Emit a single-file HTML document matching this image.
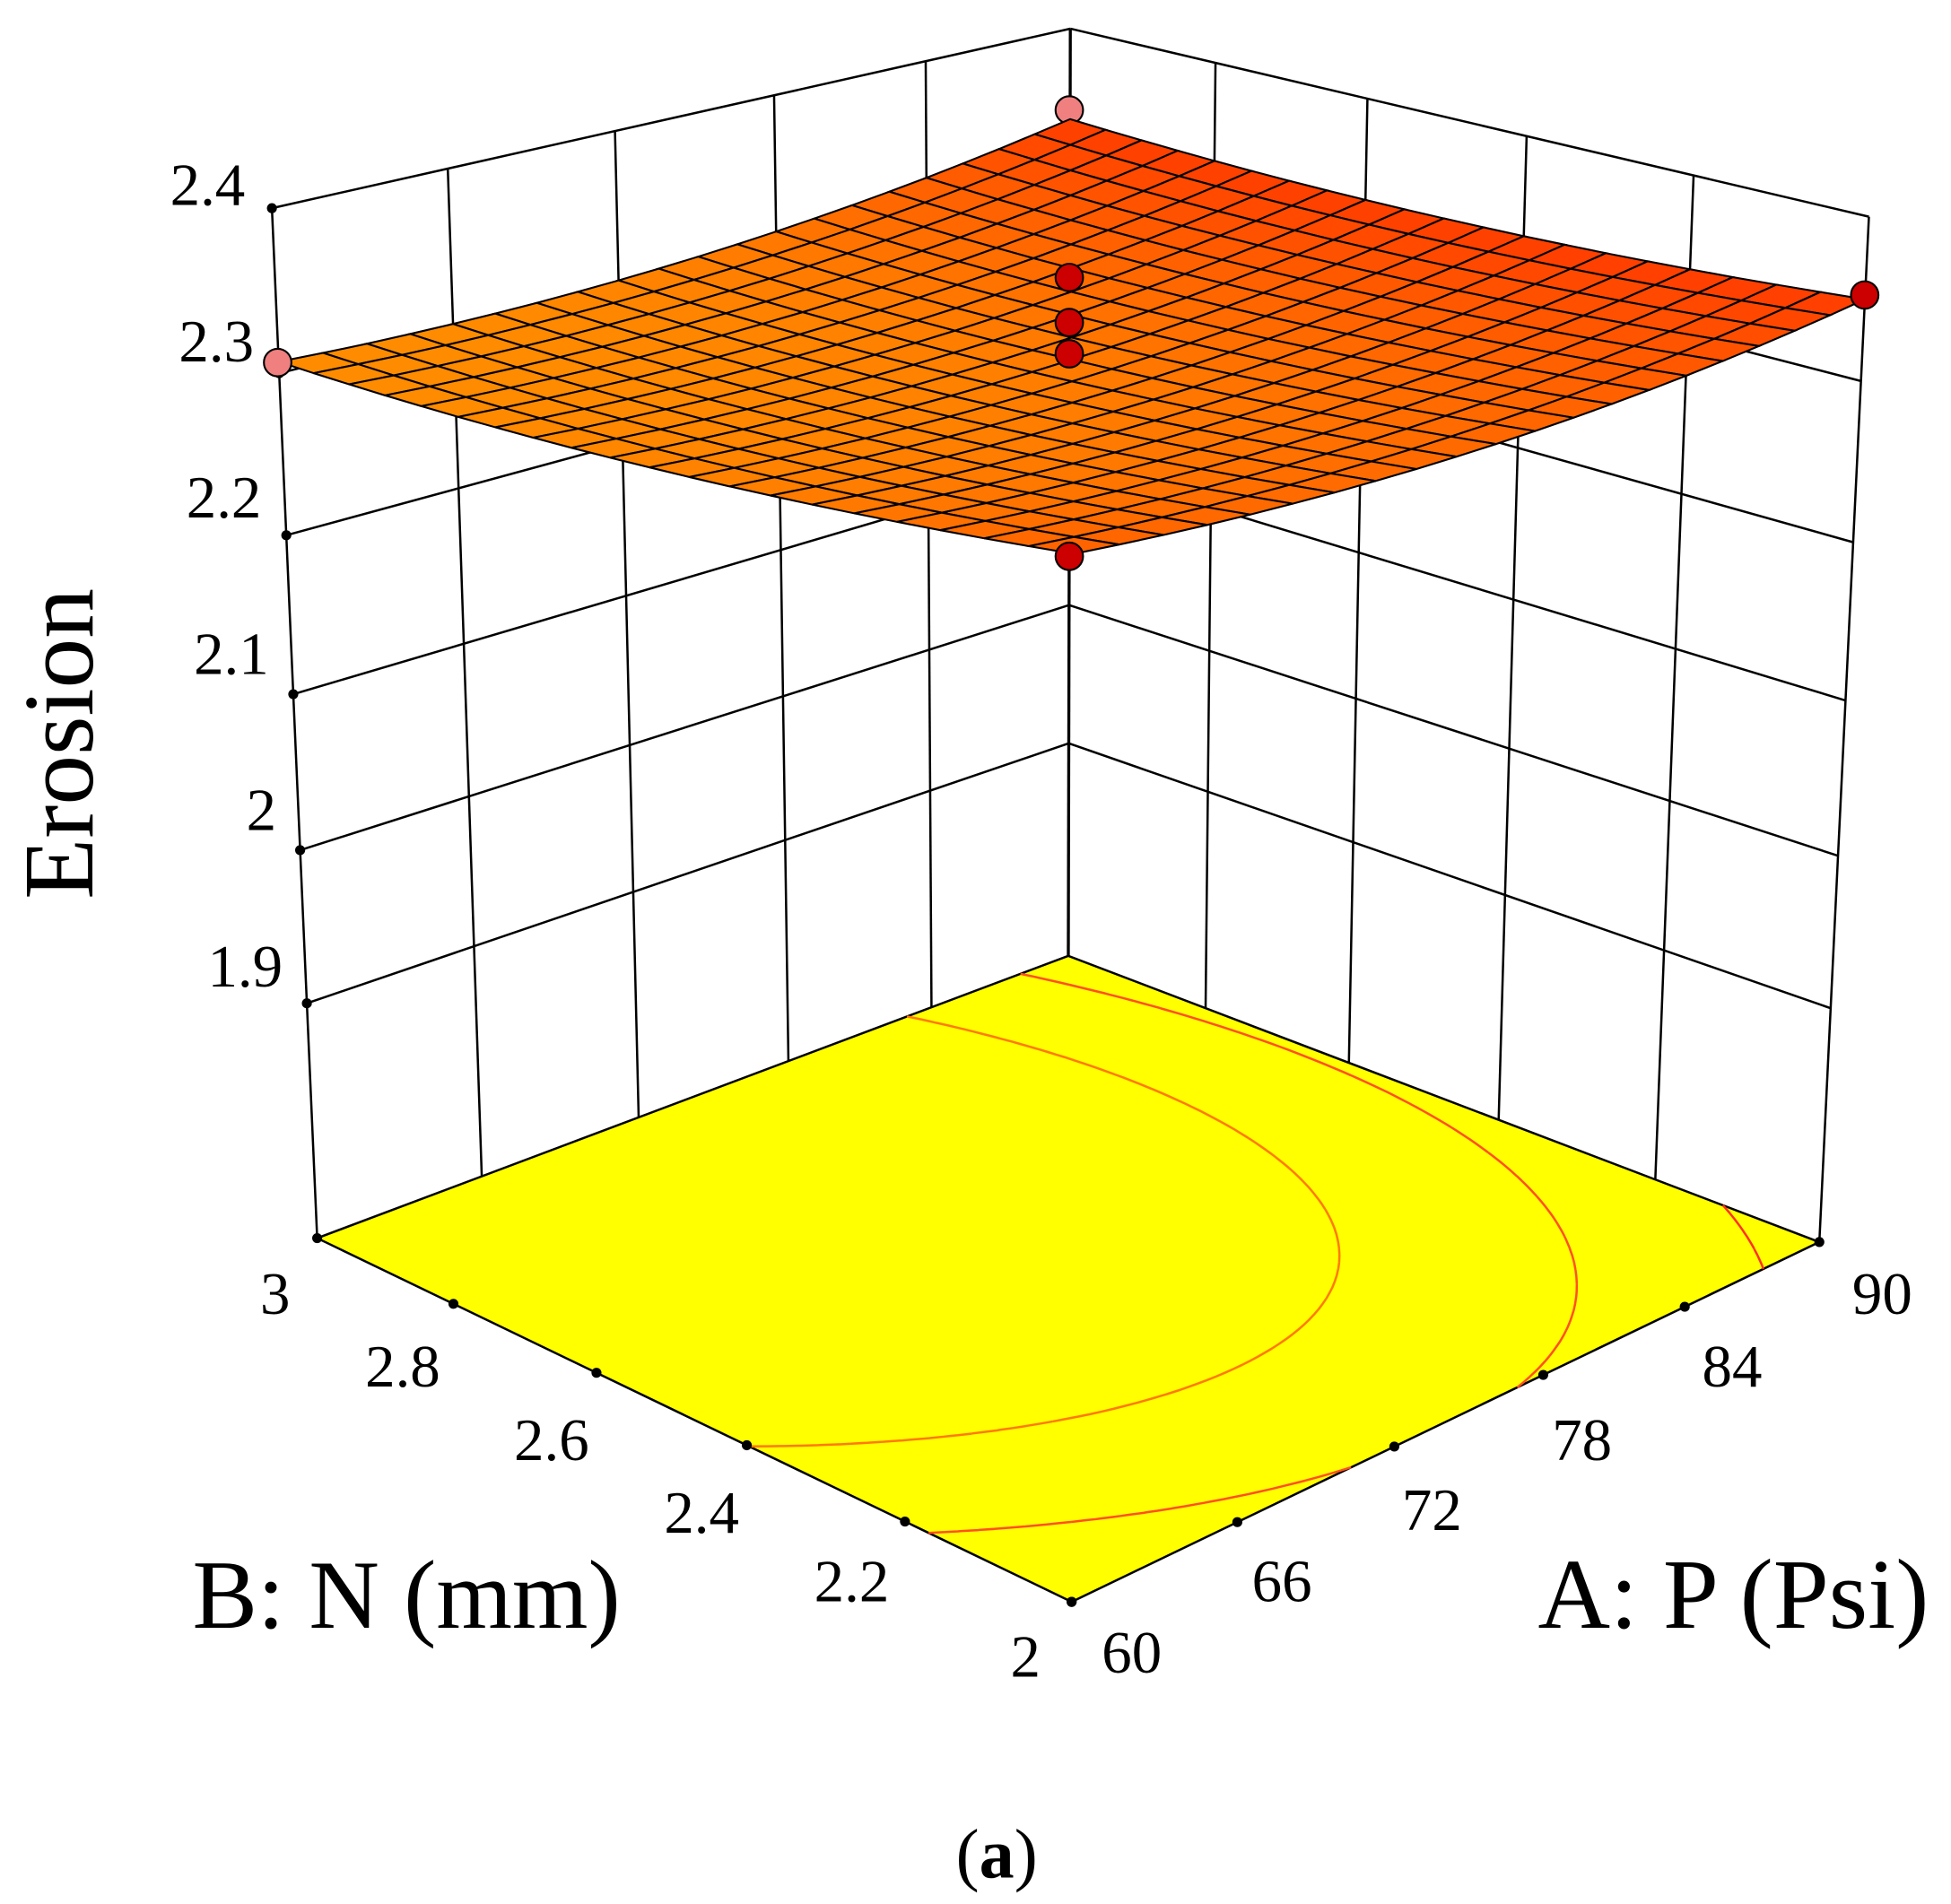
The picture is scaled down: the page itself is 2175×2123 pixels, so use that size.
<!DOCTYPE html>
<html><head><meta charset="utf-8">
<style>html,body{margin:0;padding:0;background:#fff}svg{display:block}</style>
</head><body>
<svg id="s" xmlns="http://www.w3.org/2000/svg" width="2175" height="2123" viewBox="0 0 1560 1523" preserveAspectRatio="none">
<g id="walls" stroke="#000" stroke-width="1.8" fill="none"></g>
<g id="floor"></g>
<g id="back"></g>
<g id="surf" stroke="#000" stroke-width="1.5"></g>
<g id="front"></g>
<g font-family="'Liberation Serif', serif" font-size="48" fill="#000">
<text x="196" y="164" text-anchor="end">2.4</text>
<text x="203" y="289" text-anchor="end">2.3</text>
<text x="209" y="414" text-anchor="end">2.2</text>
<text x="215" y="539" text-anchor="end">2.1</text>
<text x="221" y="664" text-anchor="end">2</text>
<text x="226" y="789" text-anchor="end">1.9</text>
<text x="220" y="1051" text-anchor="middle">3</text>
<text x="322" y="1109" text-anchor="middle">2.8</text>
<text x="441" y="1168" text-anchor="middle">2.6</text>
<text x="561" y="1226" text-anchor="middle">2.4</text>
<text x="681" y="1281" text-anchor="middle">2.2</text>
<text x="820" y="1341" text-anchor="middle">2</text>
<text x="905" y="1338" text-anchor="middle">60</text>
<text x="1025" y="1281" text-anchor="middle">66</text>
<text x="1145" y="1224" text-anchor="middle">72</text>
<text x="1265" y="1168" text-anchor="middle">78</text>
<text x="1385" y="1109" text-anchor="middle">84</text>
<text x="1505" y="1051" text-anchor="middle">90</text>
<text x="325" y="1302" text-anchor="middle" font-size="78">B: N (mm)</text>
<text x="1386" y="1302" text-anchor="middle" font-size="80">A: P (Psi)</text>
<text transform="translate(74,595) rotate(-90)" text-anchor="middle" font-size="80">Erosion</text>
<text x="797" y="1502" text-anchor="middle" font-size="56">(<tspan font-weight="bold">a</tspan>)</text>
</g>
</svg>
<script>
(function(){
var NS="http://www.w3.org/2000/svg";
function cz(z){return (z-1.743)/0.657;}
var pts=[[0,0,0,857,1282],[1,0,0,1450,995],[0,1,0,257,995],[1,1,0,855,770],
[0,1,1,215,172],[1,1,1,855,28],[1,0,1,1497,178],[0,1,cz(1.9),245,798],[1,1,cz(1.9),855,590],
[0,1,cz(2.2),228,422],[1,1,cz(2.2),855,252],[1,0,cz(2.2),1484,427]];
var A=[],B=[];
pts.forEach(function(p){var X=p[0],Y=p[1],Z=p[2],u=p[3],v=p[4];
A.push([X,Y,Z,1,0,0,0,0,-u*X,-u*Y,-u*Z]);B.push(u);
A.push([0,0,0,0,X,Y,Z,1,-v*X,-v*Y,-v*Z]);B.push(v);});
var n=11,M=[],r=[];
for(var i=0;i<n;i++){M.push([]);r.push(0);for(var j=0;j<n;j++){var s=0;for(var k=0;k<A.length;k++)s+=A[k][i]*A[k][j];M[i].push(s);}for(var k=0;k<A.length;k++)r[i]+=A[k][i]*B[k];}
for(var i=0;i<n;i++){var mx=i;for(var k=i+1;k<n;k++)if(Math.abs(M[k][i])>Math.abs(M[mx][i]))mx=k;
var tt=M[i];M[i]=M[mx];M[mx]=tt;tt=r[i];r[i]=r[mx];r[mx]=tt;
for(var k=0;k<n;k++){if(k==i)continue;var fac=M[k][i]/M[i][i];for(var j=i;j<n;j++)M[k][j]-=fac*M[i][j];r[k]-=fac*r[i];}}
var p=[];for(var i=0;i<n;i++)p.push(r[i]/M[i][i]);
function P(a,b,z){var c=cz(z);var w=p[8]*a+p[9]*b+p[10]*c+1;
return [(p[0]*a+p[1]*b+p[2]*c+p[3])/w,(p[4]*a+p[5]*b+p[6]*c+p[7])/w];}
function zOf(a,b,y){var lo=1.5,hi=3;for(var i=0;i<50;i++){var m=(lo+hi)/2;if(P(a,b,m)[1]>y)lo=m;else hi=m;}return (lo+hi)/2;}
var zL=2.307,zB=2.339,zR=2.350,zF=zOf(0,0,443);
var m1=zOf(0,.5,P(0,.5,(zF+zL)/2)[1]+13);
var m2=zOf(.5,0,P(.5,0,(zF+zR)/2)[1]+21);
var S=(zF+zR+zL+zB)/4,c1=(zR+zB-zF-zL)/4,c2=(zL+zB-zF-zR)/4,c12=(zF+zB-zR-zL)/4;
var c0=m1+m2+c1+c2-S,ka=m1-c0+c1,kb=m2-c0+c2;
function resp(a,b){var u=2*a-1,v=2*b-1;return c0+c1*u+c2*v+c12*u*v+ka*u*u+kb*v*v;}
function el(g,tag,at){var e=document.createElementNS(NS,tag);for(var k in at)e.setAttribute(k,at[k]);document.getElementById(g).appendChild(e);return e;}
function pt(q){return q[0].toFixed(1)+","+q[1].toFixed(1);}
function line(g,a,b,w){el(g,"line",{x1:a[0],y1:a[1],x2:b[0],y2:b[1],stroke:"#000","stroke-width":w||1.8});}
var Z0=1.743,Z1=2.4;
var zs=[1.9,2.0,2.1,2.2,2.3];
zs.forEach(function(z){line("walls",P(0,1,z),P(1,1,z));line("walls",P(1,1,z),P(1,0,z));});
for(var i=1;i<5;i++){line("walls",P(i/5,1,Z0),P(i/5,1,Z1));line("walls",P(1,i/5,Z0),P(1,i/5,Z1));}
line("walls",P(0,1,Z1),P(1,1,Z1));line("walls",P(1,1,Z1),P(1,0,Z1));
line("walls",P(0,1,Z0),P(0,1,Z1));line("walls",P(1,0,Z0),P(1,0,Z1));line("walls",P(1,1,Z0),P(1,1,Z1),2.4);
el("floor","polygon",{points:[P(0,0,Z0),P(1,0,Z0),P(1,1,Z0),P(0,1,Z0)].map(pt).join(" "),fill:"#ffff00",stroke:"#000","stroke-width":1.8});
try{
var zmin=9,zmax=-9;for(var i=0;i<=50;i++)for(var j=0;j<=50;j++){var z=resp(i/50,j/50);if(z<zmin)zmin=z;if(z>zmax)zmax=z;}
var N=90,fr=[0.37,0.63,0.89],levels=[],cols=["#ff7a00","#ff5020","#ff3020"];
fr.forEach(function(f){levels.push(zmin+(zmax-zmin)*f);});
levels.forEach(function(L,li){var d="";
for(var i=0;i<N;i++)for(var j=0;j<N;j++){var a0=i/N,a1=(i+1)/N,b0=j/N,b1=(j+1)/N;
var cq=[[a0,b0],[a1,b0],[a1,b1],[a0,b1]],vv=cq.map(function(q){return resp(q[0],q[1])-L;});var e=[];
for(var k=0;k<4;k++){var k2=(k+1)%4;if((vv[k]<0)!=(vv[k2]<0)){var t=vv[k]/(vv[k]-vv[k2]);e.push([cq[k][0]+t*(cq[k2][0]-cq[k][0]),cq[k][1]+t*(cq[k2][1]-cq[k][1])]);}}
for(var k=0;k+1<e.length;k+=2){d+="M"+pt(P(e[k][0],e[k][1],Z0))+"L"+pt(P(e[k+1][0],e[k+1][1],Z0));}}
if(d)el("floor","path",{d:d,stroke:cols[li],"stroke-width":1.8,fill:"none"});});
}catch(err){}
for(var i=0;i<=5;i++){[P(0,i/5,Z0),P(i/5,0,Z0)].forEach(function(q){el("floor","circle",{cx:q[0],cy:q[1],r:4,fill:"#000"});});}
[1.9,2.0,2.1,2.2,2.3,2.4].forEach(function(z){var q=P(0,1,z);el("floor","circle",{cx:q[0],cy:q[1],r:4,fill:"#000"});});
el("back","circle",{cx:855,cy:88,r:11,fill:"#f08080",stroke:"#000","stroke-width":1.5});
var G=20,cells=[];
for(var i=0;i<G;i++)for(var j=0;j<G;j++)cells.push([i,j]);
cells.sort(function(x,y){return (y[0]+y[1])-(x[0]+x[1]);});
function col(a,b){var t=Math.pow(a,2.5)+0.55*(1-a)*Math.pow(1-b,2.5);t=Math.min(1,t);var g=Math.round(140-t*80);return "rgb(255,"+g+",0)";}
cells.forEach(function(cc){var i=cc[0],j=cc[1];var q=[[i,j],[i+1,j],[i+1,j+1],[i,j+1]].map(function(x){var a=x[0]/G,b=x[1]/G;return P(a,b,resp(a,b));});
el("surf","polygon",{points:q.map(pt).join(" "),fill:col((i+.5)/G,(j+.5)/G)});});
[[855,222],[855,258],[855,283],[855,445],[1491,236]].forEach(function(m){el("front","circle",{cx:m[0],cy:m[1],r:11,fill:"#cc0000",stroke:"#000","stroke-width":1.5});});
el("front","circle",{cx:222,cy:290,r:11,fill:"#f08080",stroke:"#000","stroke-width":1.5});
})();
</script>
</body></html>
